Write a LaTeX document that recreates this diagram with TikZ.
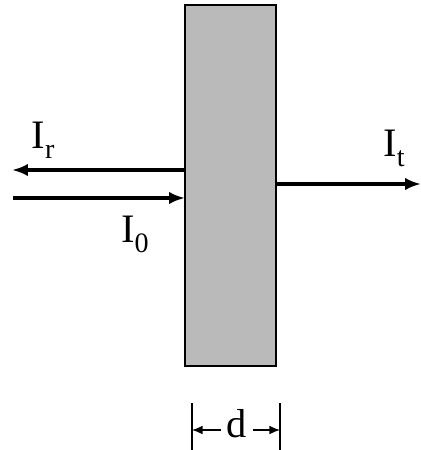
\documentclass[tikz,border=0pt]{standalone}
\usepackage{fontspec}
\setmainfont{Liberation Serif}
\usetikzlibrary{arrows.meta}
\newcommand{\lowsub}[1]{\raisebox{-0.25em}{\fontsize{16}{18}\selectfont #1}}
\begin{document}
\begin{tikzpicture}[x=0.02cm,y=-0.02cm,
	ray/.style={line width=1.8pt,-{Latex[length=9pt,width=7pt]}},
	slabbox/.style={draw,line width=1.1pt,fill=black!27,inner sep=0pt,outer sep=0pt},
	lab/.style={font=\fontsize{23}{28}\selectfont},
	dimline/.style={line width=1.1pt},
	dimarrow/.style={line width=0.8pt,-{Latex[length=6pt,width=5pt]}}]
	\useasboundingbox (0,0) rectangle (421,450);
	% slab
	\node[slabbox,minimum width=1.82cm,minimum height=7.22cm] (slab) at (230.5,185.5) {};
	% rays
	\coordinate (rEnd) at (12,170);
	\coordinate (iStart) at (13,198);
	\coordinate (tEnd) at (421,184);
	\draw[ray] (slab.west |- rEnd) -- (rEnd);
	\draw[ray] (iStart) -- (slab.west |- iStart);
	\draw[ray] (slab.east |- tEnd) -- (tEnd);
	\node[lab] (Ir) at (43,140) {I\lowsub{r}};
	\node[lab] (It) at (394,148) {I\lowsub{t}};
	\node[lab] (I0) at (135,234) {I\lowsub{0}};
	% thickness d
	\coordinate (dlTop) at (192,403);
	\coordinate (drTop) at (280,403);
	\draw[dimline] (dlTop) -- (192,450);
	\draw[dimline] (drTop) -- (280,450);
	\node[lab] (dlab) at (237,424) {d};
	\coordinate (dy) at (0,430);
	\draw[dimarrow] (dlab.west |- dy) -- (dlTop |- dy);
	\draw[dimarrow] (dlab.east |- dy) -- (drTop |- dy);
\end{tikzpicture}
\end{document}
